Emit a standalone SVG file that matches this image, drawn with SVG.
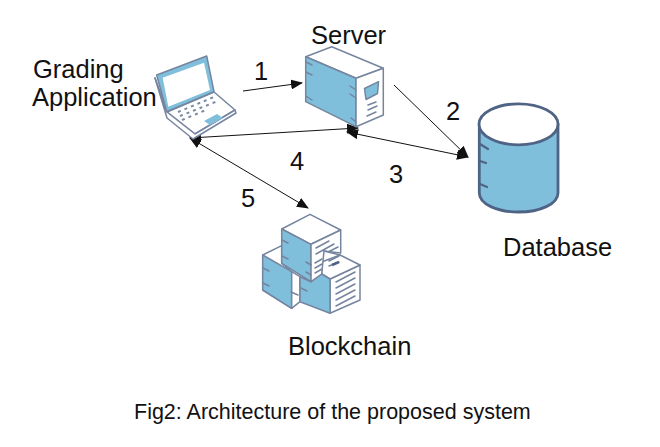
<svg xmlns="http://www.w3.org/2000/svg" width="660" height="447" viewBox="0 0 660 447">
<style>
text{font-family:"Liberation Sans",Arial,sans-serif;font-size:25.500px;fill:#111}
.cap{font-size:21.500px}
.o{stroke:#76859f;stroke-width:1.500;stroke-linejoin:round;stroke-linecap:round;fill:#fff}
.b{fill:#7fbfdc}
.d{fill:none}
.c{stroke:#111;stroke-width:1;fill:none;marker-end:url(#a)}
.cs{marker-start:url(#s)}
</style>
<defs>
<marker id="a" viewBox="0 0 12 10" refX="11" refY="5" markerWidth="12" markerHeight="10" markerUnits="userSpaceOnUse" orient="auto"><path d="M0 0L12 5L0 10Z" fill="#111"/></marker>
<marker id="s" viewBox="0 0 12 10" refX="1" refY="5" markerWidth="12" markerHeight="10" markerUnits="userSpaceOnUse" orient="auto"><path d="M12 0L0 5L12 10Z" fill="#111"/></marker>
</defs>
<rect width="660" height="447" fill="#fff"/>
<g id="connectors">
<path class="c" d="M243 91L302 83"/>
<path class="c" d="M394 85L468 157"/>
<path class="c cs" d="M347 132L468 157"/>
<path class="c cs" d="M190 138L358 128"/>
<path class="c cs" d="M190 138L308 208"/>
</g>
<g id="laptop">
<path class="o" d="M155 78L167 112L195 134L235 110L214 92L167 112"/>
<path class="o" d="M155 78L167 118L193 139L236 113L235 110L195 134L167 112Z"/>
<path class="o b" d="M156.700 75L206.700 56L214 91.700L166.700 111.700Z"/>
<path class="o" style="stroke:none" d="M162.700 77.700L204 62.700L210 90L168.300 106.700Z"/>
<path class="o b" style="stroke:none" d="M204 121L217 114L223 118L210 125Z"/>
<g stroke="#7a8aa0" stroke-width="2" stroke-dasharray="3 4" fill="none">
<path d="M178 112L214 97"/><path d="M180 116L218 101"/><path d="M182 120L206 110"/>
</g>
<text class="label" x="33" y="78">Grading</text>
<text class="label" x="32" y="106">Application</text>
</g>
<g id="server">
<path class="o" d="M305.700 56.700L331.700 46.700L383.300 68.300L356 78.300Z"/>
<path class="o b" d="M305.700 56.700L356 78.300V126.700L305.700 101.700Z"/>
<path class="o" d="M356 78.300L383.300 68.300V115L356 126.700Z"/>
<path class="o b" d="M364.500 88.500L378.500 81.700L377.500 93.500L366 99.500Z"/>
<path class="o d" d="M368 105L376 102M368 110L377 106M367 116L376 112M306 62L312 65M306 72L312 75M306 96L312 100M350 86L356 90M350 94L356 98M351 118L356 122"/>
<text x="311" y="44">Server</text>
</g>
<g id="database">
<path class="o b" style="stroke-width:2.800;stroke:#4f6484" d="M479.300 124V193C479.300 204 497 212 518.500 212S558 204 558 193V124Z"/>
<ellipse class="o" style="stroke-width:2.800;stroke:#4f6484" cx="518.500" cy="124.300" rx="39.500" ry="20.500"/>
<path class="o d" style="stroke-width:2.200;stroke:#4f6484" d="M480 144L488 149M480 161L486 163M480 184L487 187"/>
<text x="503" y="256">Database</text>
</g>
<g id="blockchain">
<path class="o" d="M262.700 255L281.700 245.700V263.300L291.700 271.700V308.300L262.700 290Z"/>
<path class="o b" d="M262.700 255L291.700 271.700V308.300L262.700 290Z"/>
<path class="o" d="M291.700 271.700L300 276.700V301.700L291.700 308.300Z"/>
<path class="o" d="M330 279L360 265V300L330 313.300Z"/>
<path class="o" d="M321.700 274L330 279L360 265L340 255L321.700 262Z"/>
<path class="o b" d="M300 276.700L311 281.700L321.700 274L330 279V313.300L300 301.700Z"/>
<path class="o" d="M281.700 229L310 214.300L340.700 230L311 244.300Z"/>
<path class="o b" d="M281.700 229L311 244.300V281.700L281.700 263.300Z"/>
<path class="o" d="M311 244.300L340.700 230V253L324 251L321.700 274L311 281.700Z"/>
<path class="o d" d="M340 255L324 251M316 248L329 241M316 254L334 244M328 252L338 247M315 263L322 259M315 268L322 264M315 273L322 269M329 261L339 256M329 266L339 262M336 282L355 272M336 288L355 278M336 294L355 284M336 300L355 290M336 306L355 296M282 240L288 243M282 256L288 259M263 268L269 271M263 283L269 286M291 292L298 295M301 288L307 291M306 262L311 265M306 272L311 275"/>
<path d="M332 265L339 262" stroke="#4f6484" stroke-width="2.500" fill="none"/>
<text x="288" y="355">Blockchain</text>
</g>
<text x="254" y="80">1</text>
<text x="446" y="120">2</text>
<text x="389" y="183">3</text>
<text x="290" y="170">4</text>
<text x="241" y="207">5</text>
<text class="cap" x="134" y="419">Fig2: Architecture of the proposed system</text>
</svg>
